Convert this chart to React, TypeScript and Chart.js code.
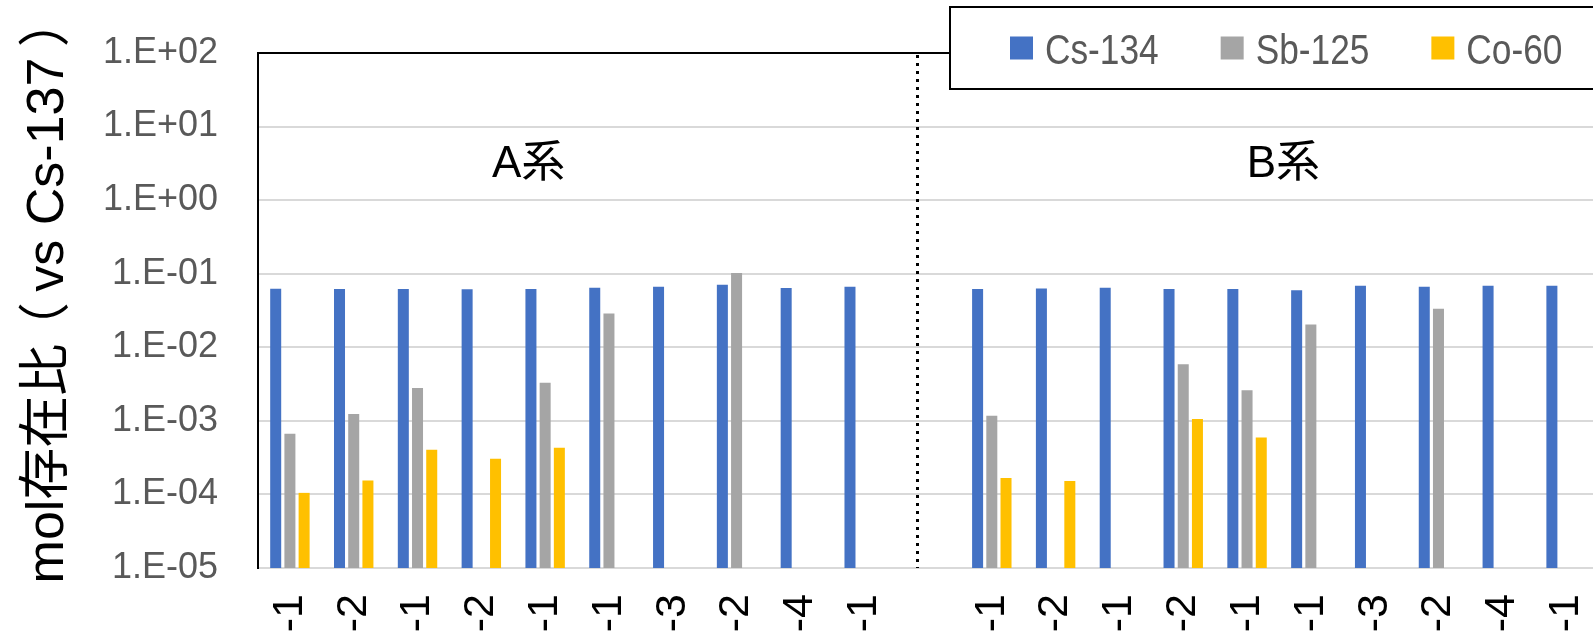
import React, { useEffect, useRef } from "react";
import { Chart, registerables } from "chart.js";

Chart.register(...registerables);

// ---- data ----
const categories = ["-1", "-2", "-1", "-2", "-1", "-1", "-3", "-2", "-4", "-1", "", "-1", "-2", "-1", "-2", "-1", "-1", "-3", "-2", "-4", "-1"];
const seriesNames = ["Cs-134", "Sb-125", "Co-60"];
const cs134 = [0.0624, 0.062, 0.062, 0.0614, 0.062, 0.0643, 0.0664, 0.0707, 0.0637, 0.0664, null, 0.062, 0.0631, 0.0643, 0.062, 0.062, 0.0598, 0.0686, 0.0664, 0.0686, 0.0686];
const sb125 = [6.7e-4, 1.24e-3, 2.8e-3, null, 3.3e-3, 0.0288, null, 0.102, null, null, null, 1.17e-3, null, null, 5.9e-3, 2.6e-3, 0.0204, null, 0.0333, null, null];
const co60 = [1.05e-4, 1.55e-4, 4.05e-4, 3.05e-4, 4.3e-4, null, null, null, null, null, null, 1.67e-4, 1.52e-4, null, 1.06e-3, 5.96e-4, null, null, null, null, null];
const yTickValues = [1e-5, 1e-4, 1e-3, 1e-2, 1e-1, 1, 10, 100];
const yTickLabels = ["1.E-05", "1.E-04", "1.E-03", "1.E-02", "1.E-01", "1.E+00", "1.E+01", "1.E+02"];
const yTitle = "mol存在比（vs Cs-137）";
const groupLabels = ["A系", "B系"];
const groupLabelX = [3.74, 15.57];
const groupLabelY = 3;
const dividerX = 9.83;

const colors = ["#4472C4", "#A5A5A5", "#FFC000"];
const FONT = "'Liberation Sans', 'Noto Sans CJK JP', sans-serif";

const overlayPlugin = {
  id: "overlay",
  afterDraw(chart: any) {
    const { ctx, chartArea: ca, scales } = chart;
    const xs = scales.x;
    const ys = scales.y;
    ctx.save();
    // y-axis title (fullwidth brackets drawn centred in their em box)
    ctx.save();
    const tSize = 52;
    ctx.translate(63, (ca.top + ca.bottom) / 2 - 16);
    ctx.rotate(-Math.PI / 2);
    ctx.fillStyle = "#000";
    ctx.font = `${tSize}px ${FONT}`;
    ctx.textAlign = "left";
    ctx.textBaseline = "alphabetic";
    const parts = yTitle.split(/([（）])/).filter((p) => p.length > 0);
    const total = parts.reduce((s, p) => s + ctx.measureText(p).width, 0);
    let tx = -total / 2;
    parts.forEach((p) => {
      const shift = p === "（" ? -0.2 * tSize : p === "）" ? 0.2 * tSize : 0;
      ctx.fillText(p, tx + shift, 0);
      tx += ctx.measureText(p).width;
    });
    ctx.restore();
    // top border of plot
    ctx.strokeStyle = "#000";
    ctx.lineWidth = 2;
    ctx.beginPath();
    ctx.moveTo(ca.left - 1, ca.top);
    ctx.lineTo(chart.width, ca.top);
    ctx.stroke();
    // dotted divider
    const dx = Math.round(xs.getPixelForValue(dividerX)) + 0.5;
    ctx.setLineDash([3, 5]);
    ctx.lineWidth = 3;
    ctx.beginPath();
    ctx.moveTo(dx, ca.top + 2);
    ctx.lineTo(dx, ca.bottom);
    ctx.stroke();
    ctx.setLineDash([]);
    // group labels
    ctx.fillStyle = "#000";
    ctx.font = `44px ${FONT}`;
    ctx.textAlign = "center";
    ctx.textBaseline = "middle";
    groupLabels.forEach((t, i) => {
      ctx.fillText(t, xs.getPixelForValue(groupLabelX[i]), ys.getPixelForValue(groupLabelY));
    });
    // legend box
    const boxL = 950, boxT = 7, boxB = 89;
    ctx.fillStyle = "#fff";
    ctx.fillRect(boxL, boxT, chart.width - boxL + 20, boxB - boxT);
    ctx.strokeStyle = "#000";
    ctx.lineWidth = 2;
    ctx.strokeRect(boxL, boxT, chart.width - boxL + 20, boxB - boxT);
    // legend items
    let lx = 1010;
    const sq = 23, cy = 48;
    ctx.font = `43px ${FONT}`;
    ctx.textAlign = "left";
    ctx.textBaseline = "alphabetic";
    chart.data.datasets.forEach((ds: any) => {
      ctx.fillStyle = ds.backgroundColor;
      ctx.fillRect(lx, cy - sq / 2, sq, sq);
      lx += sq + 12;
      const w = ctx.measureText(ds.label).width * 0.82;
      ctx.save();
      ctx.translate(lx, cy + 15.5);
      ctx.scale(0.82, 1);
      ctx.fillStyle = "#595959";
      ctx.fillText(ds.label, 0, 0);
      ctx.restore();
      lx += w + 62;
    });
    ctx.restore();
  },
};

export default function App() {
  const ref = useRef<HTMLCanvasElement>(null);
  useEffect(() => {
    const seriesData = [cs134, sb125, co60];
    const chart = new Chart(ref.current as HTMLCanvasElement, {
      type: "bar",
      data: {
        labels: categories,
        datasets: seriesNames.map((name, i) => ({
          label: name,
          data: seriesData[i] as any,
          backgroundColor: colors[i],
          borderWidth: 0,
          categoryPercentage: 0.668,
          barPercentage: 0.775,
        })),
      },
      options: {
        responsive: false,
        maintainAspectRatio: false,
        animation: false,
        devicePixelRatio: 1,
        layout: { padding: { left: 0, right: 2, top: 53, bottom: 0 } },
        plugins: { legend: { display: false }, tooltip: { enabled: false } },
        scales: {
          x: {
            type: "category",
            grid: { display: false, drawTicks: false },
            border: { display: true, color: "#d9d9d9", width: 2 },
            ticks: {
              autoSkip: false,
              minRotation: 90,
              maxRotation: 90,
              padding: 26,
              color: "#000",
              font: { family: FONT, size: 43 },
            },
            afterFit: (scale: any) => {
              scale.height = 68;
              scale.paddingLeft = 0;
              scale.paddingRight = 0;
              scale.paddingTop = 0;
              scale.paddingBottom = 0;
            },
          },
          y: {
            type: "logarithmic",
            min: 1e-5,
            max: 100,
            grid: { color: "#d9d9d9", lineWidth: 2, drawTicks: false },
            border: { display: true, color: "#000", width: 2 },
            afterBuildTicks: (scale: any) => {
              scale.ticks = yTickValues.map((v) => ({ value: v }));
            },
            ticks: {
              padding: 40,
              color: "#595959",
              font: { family: FONT, size: 36 },
              callback: (_v: any, idx: number) => yTickLabels[idx],
            },
            title: { display: false, text: yTitle },
            afterFit: (scale: any) => {
              scale.width = 258;
              scale.paddingTop = 0;
              scale.paddingBottom = 0;
              scale.paddingLeft = 0;
              scale.paddingRight = 0;
            },
          },
        },
      },
      plugins: [overlayPlugin],
    });
    return () => chart.destroy();
  }, []);
  return (
    <div
      style={{
        position: "fixed",
        left: 0,
        top: 0,
        width: 1593,
        height: 636,
        overflow: "hidden",
        background: "#fff",
      }}
    >
      <canvas ref={ref} width={1600} height={636} style={{ display: "block", width: 1600, height: 636 }} />
    </div>
  );
}
